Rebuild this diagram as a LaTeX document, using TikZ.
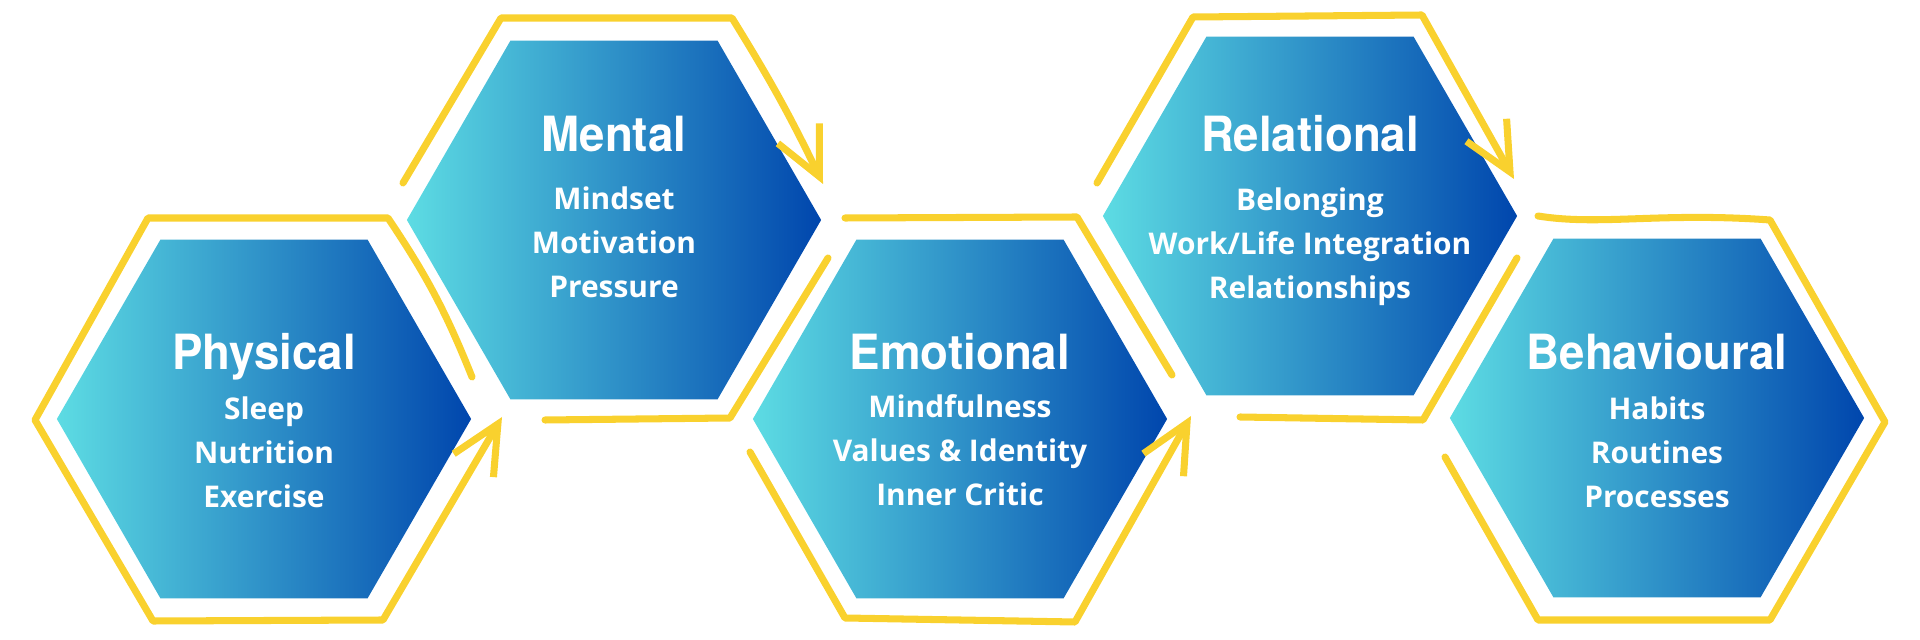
\documentclass[tikz,border=0pt]{standalone}
\usepackage{fontspec}
\usepackage{tikz}
\usetikzlibrary{shapes.geometric,arrows.meta}
\newfontfamily\ttlfont[FakeStretch=0.94]{TeX Gyre Heros}
\newfontfamily\subfont{Open Sans}
\definecolor{hexcyan}{HTML}{5DDCE3}
\definecolor{hexblue}{HTML}{0046AD}
\definecolor{penyellow}{HTML}{F9D12E}

\begin{document}
\begin{tikzpicture}[x=0.01cm, y=-0.01cm,
  hexa/.style={regular polygon, regular polygon sides=6, minimum size=4.14cm, inner sep=0pt, outer sep=0pt, left color=hexcyan, right color=hexblue},
  ttl/.style={anchor=base, inner sep=0pt, text=white, font=\ttlfont\bfseries\fontsize{13.8}{14}\selectfont},
  sub/.style={anchor=base, inner sep=0pt, align=center, text=white, font=\subfont\bfseries\fontsize{8.5}{12.5}\selectfont},
  pen/.style={draw=penyellow, line width=2pt, line cap=round, line join=round},
  tip/.style={-{Straight Barb[length=4.8mm, width=4.6mm]}}]
\useasboundingbox (0,0) rectangle (1920,640);
% hexagons
\node[hexa] (physical) at (264,419) {};
\node[hexa] (mental) at (614,220) {};
\node[hexa] (emotional) at (960,419) {};
\node[hexa] (relational) at (1310,216) {};
\node[hexa] (behavioural) at (1657,418) {};
% texts (sub nodes sit on their last line)
\node[ttl] (physical-t) at ([yshift=4.9mm]physical.center) {Physical};
\node[sub] (physical-s) at ([yshift=-25pt-0.1mm]physical.center) {Sleep\\Nutrition\\Exercise};
\node[ttl] (mental-t) at ([yshift=6.8mm]mental.center) {Mental};
\node[sub] (mental-s) at ([yshift=-25pt+1mm]mental.center) {Mindset\\Motivation\\Pressure};
\node[ttl] (emotional-t) at ([yshift=4.9mm]emotional.center) {Emotional};
\node[sub] (emotional-s) at ([yshift=-25pt+0.1mm]emotional.center) {Mindfulness\\Values \& Identity\\Inner Critic};
\node[ttl] (relational-t) at ([yshift=6.4mm]relational.center) {Relational};
\node[sub] (relational-s) at ([yshift=-25pt+0.5mm]relational.center) {Belonging\\Work/Life Integration\\Relationships};
\node[ttl] (behavioural-t) at ([yshift=4.8mm]behavioural.center) {Behavioural};
\node[sub] (behavioural-s) at ([yshift=-25pt-0.2mm]behavioural.center) {Habits\\Routines\\Processes};
% hand-drawn yellow outline
\draw[pen, tip] (472,377) to[bend right=6] (388,218) -- (148,218) -- (35,420) -- (153,621) -- (383,620) -- (502,417);
\draw[pen, tip] (403,183) -- (501,18) -- (732,18) to[bend left=3] (823,184);
\draw[pen] (545,420) -- (730,418) -- (828,258);
\draw[pen] (845,218) -- (1077,217) -- (1172,375);
\draw[pen, tip] (750,452) -- (845,618) -- (1075,622) -- (1191,416);
\draw[pen, tip] (1097,183) -- (1193,17) -- (1422,15) -- (1514,179);
\draw[pen] (1240,417) -- (1423,420) -- (1517,258);
\draw[pen] (1538,216) .. controls (1600,226) and (1660,212) .. (1770,220) -- (1885,422) -- (1770,620) -- (1538,620) -- (1445,457);
\end{tikzpicture}
\end{document}
